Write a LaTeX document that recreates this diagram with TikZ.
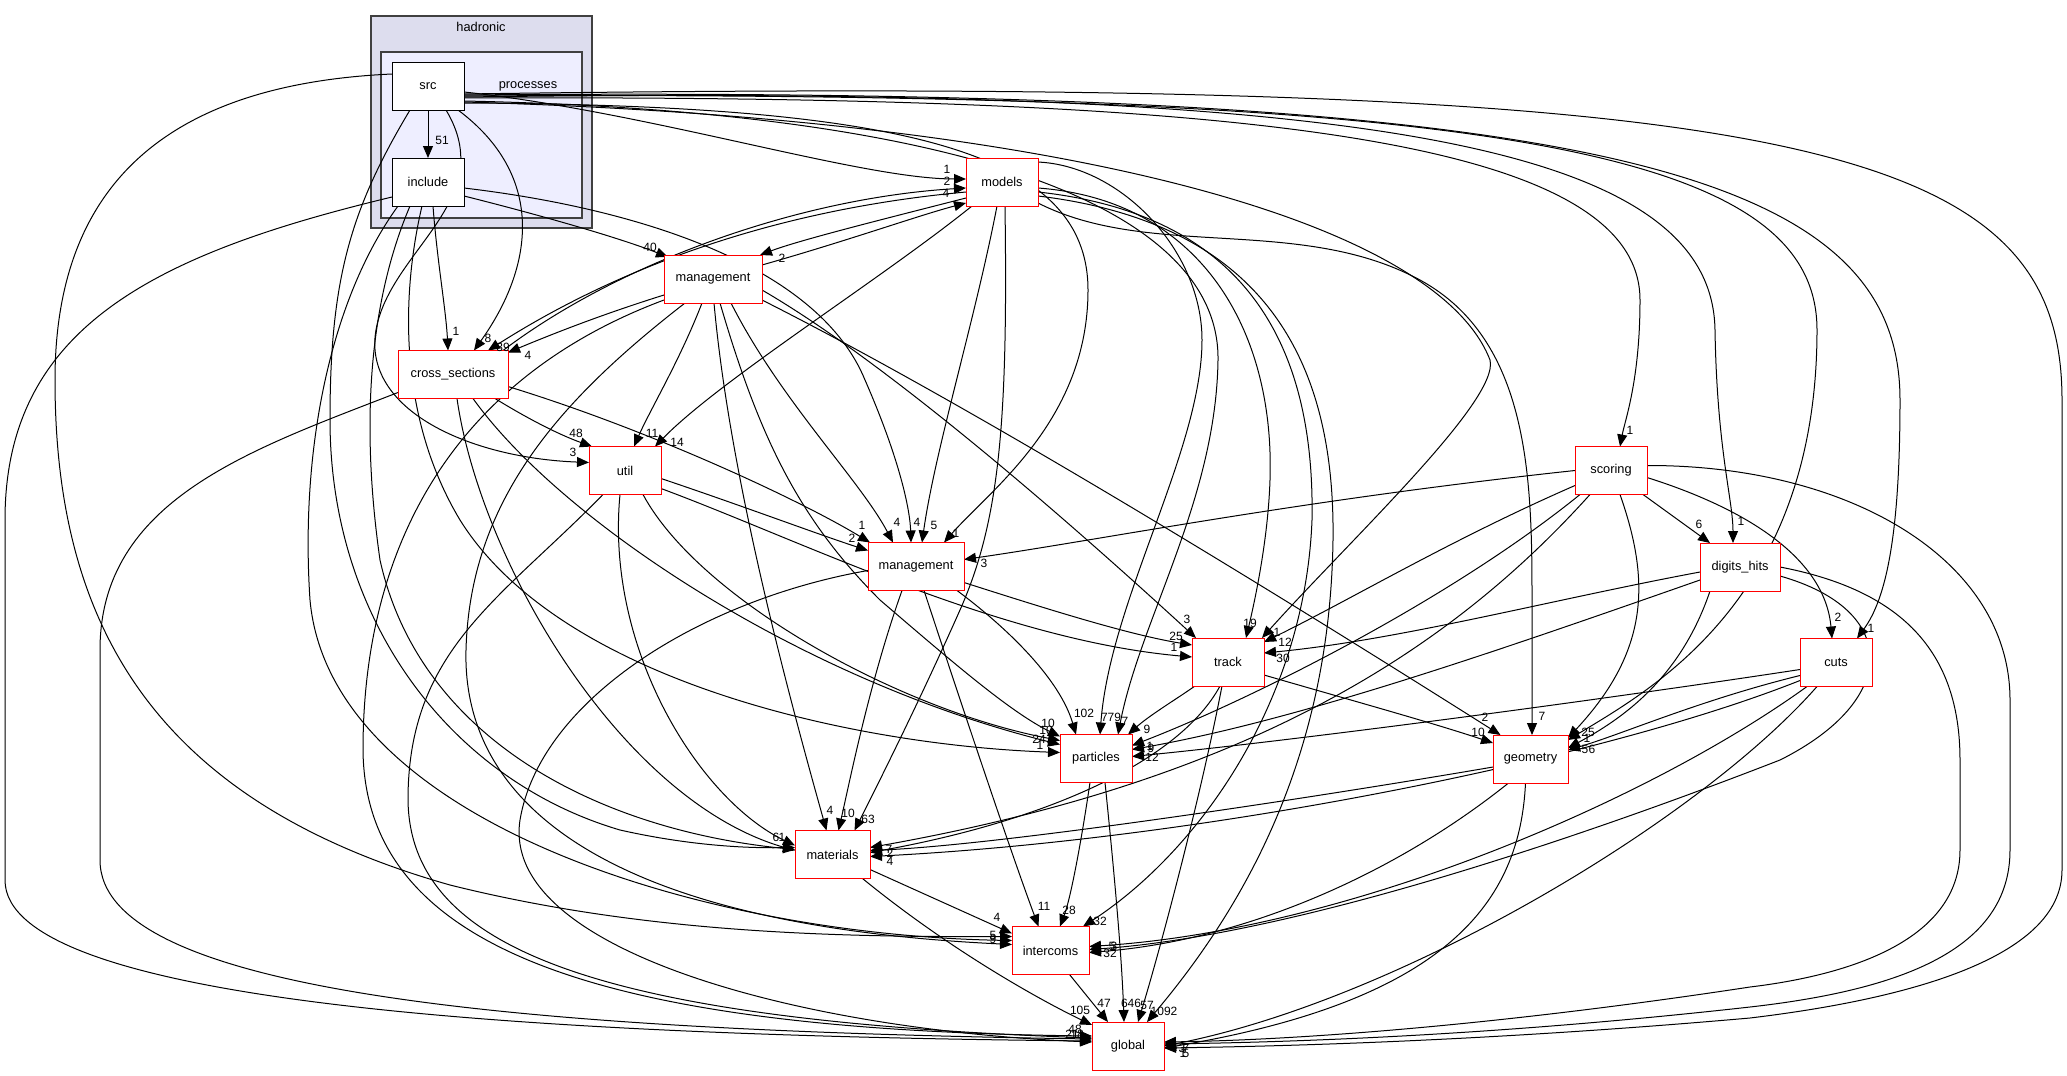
\documentclass[tikz,border=0pt]{standalone}
\usepackage{fontspec}
\setmainfont{Liberation Sans}
\usetikzlibrary{arrows.meta,calc}
\definecolor{hadfill}{HTML}{DDDDEE}
\definecolor{procfill}{HTML}{EEEEFF}
\definecolor{clborder}{HTML}{404040}
\begin{document}
\begin{tikzpicture}[x=1pt,y=-1pt,
  dep/.style={line width=1pt,-{Triangle[length=12pt,width=10pt]}},
  dirn/.style={draw=red,fill=white,line width=0.9pt,minimum height=48pt,inner sep=0pt,font=\fontsize{12.8}{14}\selectfont},
  lbl/.style={inner sep=0pt,font=\fontsize{12}{13}\selectfont},
  clus/.style={draw=clborder,line width=1.1pt,inner sep=0pt}]
\fill[white] (0,0) rectangle (2067,1076);
\useasboundingbox (0,0) rectangle (2067,1076);
% clusters
\node[clus,fill=hadfill,minimum width=221pt,minimum height=212pt] (hadronic) at (481.5,122) {};
\node[lbl,font=\fontsize{12.8}{14}\selectfont] (hadlbl) at (481,27) {hadronic};
\node[clus,fill=procfill,minimum width=201pt,minimum height=166pt] (processes) at (481.5,135) {};
\node[lbl,font=\fontsize{12.8}{14}\selectfont] (proclbl) at (528,86) {processes};
% node centres
\coordinate (src) at (428,86);
\coordinate (include) at (428,182);
\coordinate (models) at (1002,182);
\coordinate (mgmtH) at (713,279);
\coordinate (cross) at (453,374.5);
\coordinate (util) at (625,470.5);
\coordinate (mgmtP) at (916,566.5);
\coordinate (track) at (1228,662);
\coordinate (particles) at (1096,758.5);
\coordinate (geometry) at (1530.5,759);
\coordinate (scoring) at (1611,470.5);
\coordinate (digits) at (1740,567);
\coordinate (cuts) at (1836,662.5);
\coordinate (materials) at (832.5,854.5);
\coordinate (intercoms) at (1050.5,950.5);
\coordinate (global) at (1128,1046);
% ---------------- edges ----------------
% from src
\draw[dep] ($(src)+(0,24)$) -- ($(include)+(0,-24)$);
\draw[dep] ($(src)+(36,6)$) .. controls (650,112) and (860,179) .. ($(models)+(-36,-3)$);
\draw[dep] ($(src)+(30,24)$) .. controls (545,175) and (535,265) .. ($(cross)+(21,-24)$);
\draw[dep] ($(src)+(18,24)$) .. controls (500,200) and (390,250) .. (376,330) .. controls (362,410) and (470,458) .. ($(util)+(-36,-8)$);
\draw[dep] ($(src)+(36,17)$) .. controls (900,105) and (1088,150) .. (1088,290) .. controls (1088,420) and (990,490) .. ($(mgmtP)+(28,-24)$);
\draw[dep] ($(src)+(36,15)$) .. controls (1000,112) and (1220,220) .. (1218,360) .. controls (1216,500) and (1140,620) .. ($(particles)+(22,-24)$);
\draw[dep] ($(src)+(36,16)$) .. controls (1100,120) and (1440,230) .. (1490,360) .. controls (1500,400) and (1350,540) .. ($(track)+(34,-24)$);
\draw[dep] ($(src)+(36,12)$) .. controls (1200,95) and (1640,130) .. (1640,300) .. controls (1640,380) and (1625,420) .. ($(scoring)+(9,-24)$);
\draw[dep] ($(src)+(36,11)$) .. controls (1350,85) and (1712,140) .. (1715,330) .. controls (1717,450) and (1733,500) .. ($(digits)+(-7,-24)$);
\draw[dep] ($(src)+(36,10)$) .. controls (1500,90) and (1817,150) .. (1817,330) .. controls (1817,600) and (1650,690) .. ($(geometry)+(37.5,-19)$);
\draw[dep] ($(src)+(36,9)$) .. controls (1600,85) and (1900,170) .. (1900,400) .. controls (1900,540) and (1885,600) .. ($(cuts)+(21,-24)$);
\draw[dep] ($(src)+(36,8)$) .. controls (1800,75) and (2062,140) .. (2062,400) -- (2062,870) .. controls (2062,960) and (1900,1000) .. (1750,1018) .. controls (1500,1040) and (1300,1046) .. ($(global)+(36,2)$);
\draw[dep] ($(src)+(-36,-12)$) .. controls (150,85) and (55,200) .. (55,380) .. controls (55,620) and (150,800) .. (450,885) .. controls (650,935) and (850,937) .. ($(intercoms)+(-38.5,-14)$);
\draw[dep] ($(src)+(-18,24)$) .. controls (350,210) and (330,280) .. (330,420) .. controls (330,620) and (450,780) .. (620,830) .. controls (700,848) and (760,848) .. ($(materials)+(-37.5,-7)$);
% from include
\draw[dep] ($(include)+(36,14)$) .. controls (540,215) and (620,238) .. ($(mgmtH)+(-45,-22)$);
\draw[dep] ($(include)+(5,24)$) .. controls (437,260) and (446,310) .. ($(cross)+(-5,-24)$);
\draw[dep] ($(include)+(36,6)$) .. controls (650,210) and (820,270) .. (865,380) .. controls (900,460) and (910,510) .. ($(mgmtP)+(-5,-24)$);
\draw[dep] ($(include)+(-36,15)$) .. controls (150,255) and (5,330) .. (5,520) -- (5,880) .. controls (5,1000) and (500,1035) .. ($(global)+(-36,-5)$);
\draw[dep] ($(include)+(-18,24)$) .. controls (370,300) and (360,420) .. (380,560) .. controls (420,740) and (600,830) .. ($(materials)+(-37.5,-5)$);
\draw[dep] ($(include)+(-30,24)$) .. controls (330,300) and (300,450) .. (310,600) .. controls (330,820) and (700,935) .. ($(intercoms)+(-38.5,-10)$);
\draw[dep] ($(include)+(-6,24)$) .. controls (400,300) and (400,420) .. (460,520) .. controls (560,680) and (850,745) .. ($(particles)+(-36,-6)$);
% models / management / cross_sections
\draw[dep] ($(cross)+(50,-24)$) .. controls (620,262) and (800,198) .. ($(models)+(-36,6)$);
\draw[dep] ($(models)+(-36,10)$) .. controls (790,208) and (630,260) .. ($(cross)+(35,-24)$);
\draw[dep] ($(models)+(-36,16)$) .. controls (880,220) and (800,240) .. ($(mgmtH)+(47,-24)$);
\draw[dep] ($(mgmtH)+(49,-14)$) .. controls (850,240) and (920,215) .. ($(models)+(-36,21)$);
\draw[dep] ($(mgmtH)+(-49,16)$) .. controls (600,315) and (550,335) .. ($(cross)+(55,-22)$);
\draw[dep] ($(cross)+(42,24)$) .. controls (530,420) and (560,435) .. ($(util)+(-33,-24)$);
\draw[dep] ($(mgmtH)+(-11,24)$) .. controls (680,360) and (650,410) .. ($(util)+(9,-24)$);
\draw[dep] ($(models)+(-30,24)$) .. controls (880,280) and (720,380) .. ($(util)+(30,-24)$);
\draw[dep] ($(models)+(-5,24)$) .. controls (975,320) and (935,450) .. ($(mgmtP)+(6,-24)$);
\draw[dep] ($(models)+(3,24)$) .. controls (1008,420) and (1000,520) .. (960,610) .. controls (920,700) and (880,780) .. ($(materials)+(22,-24)$);
\draw[dep] ($(models)+(35,-20)$) .. controls (1120,165) and (1202,250) .. (1202,340) .. controls (1202,450) and (1110,600) .. ($(particles)+(4,-24)$);
\draw[dep] ($(models)+(36,6)$) .. controls (1200,200) and (1275,330) .. (1270,480) .. controls (1268,540) and (1255,600) .. ($(track)+(18,-24)$);
\draw[dep] ($(models)+(36,10)$) .. controls (1250,215) and (1315,350) .. (1312,520) .. controls (1305,700) and (1200,850) .. ($(intercoms)+(32.5,-24)$);
\draw[dep] ($(models)+(36,14)$) .. controls (1280,225) and (1335,380) .. (1333,540) .. controls (1330,750) and (1250,900) .. ($(global)+(19,-24)$);
\draw[dep] ($(models)+(36,21)$) .. controls (1150,260) and (1300,215) .. (1420,280) .. controls (1530,340) and (1532,480) .. (1532,600) -- ($(geometry)+(1.5,-24)$);
\draw[dep] ($(mgmtH)+(49,11)$) .. controls (900,370) and (1100,550) .. ($(track)+(-32,-24)$);
\draw[dep] ($(mgmtH)+(49,21)$) .. controls (1000,420) and (1350,640) .. ($(geometry)+(-30,-24)$);
\draw[dep] ($(mgmtH)+(7,24)$) .. controls (760,440) and (800,520) .. (880,600) .. controls (950,660) and (1010,712) .. ($(particles)+(-36,-22)$);
\draw[dep] ($(mgmtH)+(18,24)$) .. controls (780,400) and (860,480) .. ($(mgmtP)+(-23,-24)$);
\draw[dep] ($(mgmtH)+(1,24)$) .. controls (730,480) and (790,700) .. ($(materials)+(-6,-24)$);
\draw[dep] ($(mgmtH)+(-28,24)$) .. controls (560,400) and (470,500) .. (466,650) .. controls (462,800) and (600,925) .. ($(intercoms)+(-38.5,-6)$);
\draw[dep] ($(mgmtH)+(-49,21)$) .. controls (450,380) and (363,550) .. (363,750) .. controls (365,950) and (600,1030) .. ($(global)+(-36,-10)$);
\draw[dep] ($(cross)+(55,12)$) .. controls (650,430) and (800,500) .. ($(mgmtP)+(-46,-24)$);
\draw[dep] ($(util)+(36,8)$) .. controls (740,505) and (820,535) .. ($(mgmtP)+(-48,-16)$);
\draw[dep] ($(cross)+(20,24)$) .. controls (560,520) and (800,680) .. ($(particles)+(-36,-14)$);
\draw[dep] ($(cross)+(4,24)$) .. controls (480,560) and (620,800) .. ($(materials)+(-37.5,-4)$);
\draw[dep] ($(cross)+(-55,18)$) .. controls (250,450) and (100,500) .. (100,650) -- (100,860) .. controls (100,990) and (500,1030) .. ($(global)+(-36,-7)$);
\draw[dep] ($(util)+(36,18)$) .. controls (800,540) and (1000,640) .. ($(track)+(-36,-5)$);
\draw[dep] ($(util)+(18,24)$) .. controls (700,600) and (900,710) .. ($(particles)+(-36,-18)$);
\draw[dep] ($(util)+(-22,24)$) .. controls (500,600) and (408,650) .. (408,800) .. controls (410,950) and (600,1020) .. ($(global)+(-36,-8)$);
\draw[dep] ($(util)+(-5,24)$) .. controls (605,650) and (700,800) .. ($(materials)+(-37.5,-9)$);
\draw[dep] ($(mgmtP)+(48,16)$) .. controls (1050,610) and (1130,635) .. ($(track)+(-36,-17)$);
\draw[dep] ($(mgmtP)+(41,24)$) .. controls (1010,630) and (1060,680) .. ($(particles)+(-20,-24)$);
\draw[dep] ($(mgmtP)+(-14,24)$) .. controls (870,680) and (850,780) .. ($(materials)+(6,-24)$);
\draw[dep] ($(mgmtP)+(8,24)$) .. controls (960,700) and (1010,850) .. ($(intercoms)+(-12,-24)$);
\draw[dep] ($(mgmtP)+(-48,4)$) .. controls (700,600) and (540,700) .. (520,820) .. controls (500,950) and (800,1030) .. ($(global)+(-36,-4)$);
% right-hand group
\draw[dep] ($(scoring)+(-36,0)$) .. controls (1300,500) and (1100,540) .. ($(mgmtP)+(48,-7)$);
\draw[dep] ($(scoring)+(-36,15)$) .. controls (1450,540) and (1350,600) .. ($(track)+(36,-20)$);
\draw[dep] ($(digits)+(-40,5)$) .. controls (1550,600) and (1400,640) .. ($(track)+(36,-9)$);
\draw[dep] ($(scoring)+(-31,24)$) .. controls (1450,600) and (1250,700) .. ($(particles)+(36,-13)$);
\draw[dep] ($(digits)+(-40,13)$) .. controls (1500,650) and (1300,720) .. ($(particles)+(36,-9)$);
\draw[dep] ($(cuts)+(-36,7)$) .. controls (1600,700) and (1300,740) .. ($(particles)+(36,-2)$);
\draw[dep] ($(track)+(-33,24)$) .. controls (1175,700) and (1150,715) .. ($(particles)+(32,-24)$);
\draw[dep] ($(scoring)+(32,24)$) -- ($(digits)+(-30,-24)$);
\draw[dep] ($(scoring)+(36,7)$) .. controls (1750,510) and (1825,560) .. ($(cuts)+(-4,-24)$);
\draw[dep] ($(scoring)+(9,24)$) .. controls (1650,580) and (1650,650) .. ($(geometry)+(37.5,-21)$);
\draw[dep] ($(scoring)+(-21,24)$) .. controls (1450,650) and (1250,780) .. ($(materials)+(37.5,-7)$);
\draw[dep] ($(scoring)+(36,-5)$) .. controls (1850,465) and (2010,560) .. (2010,700) -- (2010,850) .. controls (2010,950) and (1900,990) .. (1750,1007) .. controls (1500,1035) and (1300,1042) .. ($(global)+(36,-2)$);
\draw[dep] ($(digits)+(-30,24)$) .. controls (1680,680) and (1620,720) .. ($(geometry)+(37.5,-11)$);
\draw[dep] ($(digits)+(40,9)$) .. controls (1900,610) and (1900,700) .. (1780,760) .. controls (1600,830) and (1300,935) .. ($(intercoms)+(38.5,-1)$);
\draw[dep] ($(digits)+(40,0)$) .. controls (1900,590) and (1960,650) .. (1960,760) -- (1960,850) .. controls (1960,940) and (1850,975) .. (1750,987) .. controls (1500,1025) and (1300,1040) .. ($(global)+(36,-4)$);
\draw[dep] ($(track)+(36,13)$) .. controls (1350,700) and (1430,722) .. ($(geometry)+(-37.5,-16)$);
\draw[dep] ($(track)+(-8,24)$) .. controls (1180,760) and (1050,820) .. ($(materials)+(37.5,-2)$);
\draw[dep] ($(track)+(-6,24)$) .. controls (1200,800) and (1160,950) .. ($(global)+(10,-24)$);
\draw[dep] ($(particles)+(-6,24)$) .. controls (1080,850) and (1070,900) .. ($(intercoms)+(9.5,-24)$);
\draw[dep] ($(particles)+(9,24)$) .. controls (1115,880) and (1122,960) .. ($(global)+(-4,-24)$);
\draw[dep] ($(cuts)+(-36,13)$) .. controls (1700,700) and (1620,735) .. ($(geometry)+(37.5,-9)$);
\draw[dep] ($(cuts)+(-36,18)$) .. controls (1600,760) and (1200,840) .. ($(materials)+(37.5,2)$);
\draw[dep] ($(cuts)+(-29,24)$) .. controls (1650,800) and (1350,930) .. ($(intercoms)+(38.5,-4)$);
\draw[dep] ($(cuts)+(-19,24)$) .. controls (1700,820) and (1400,1000) .. ($(global)+(36,0)$);
\draw[dep] ($(geometry)+(-37.5,8)$) .. controls (1300,800) and (1000,845) .. ($(materials)+(37.5,-4)$);
\draw[dep] ($(geometry)+(-22,24)$) .. controls (1400,870) and (1250,940) .. ($(intercoms)+(38.5,2)$);
\draw[dep] ($(geometry)+(-5,24)$) .. controls (1520,900) and (1450,1000) .. ($(global)+(36,2)$);
\draw[dep] ($(materials)+(37.5,15)$) -- ($(intercoms)+(-38.5,-17)$);
\draw[dep] ($(materials)+(30,24)$) .. controls (950,950) and (1040,1000) .. ($(global)+(-36,-21)$);
\draw[dep] ($(intercoms)+(19,24)$) -- ($(global)+(-20,-24)$);
% ---------------- nodes ----------------
\node[dirn,draw=black,minimum width=72pt] (nsrc) at (src) {src};
\node[dirn,draw=black,minimum width=72pt] (ninclude) at (include) {include};
\node[dirn,minimum width=72pt] (nmodels) at (models) {models};
\node[dirn,minimum width=98pt] (nmgmtH) at (mgmtH) {management};
\node[dirn,minimum width=110pt] (ncross) at (cross) {cross\_sections};
\node[dirn,minimum width=72pt] (nutil) at (util) {util};
\node[dirn,minimum width=96pt] (nmgmtP) at (mgmtP) {management};
\node[dirn,minimum width=72pt] (ntrack) at (track) {track};
\node[dirn,minimum width=72pt] (nparticles) at (particles) {particles};
\node[dirn,minimum width=75pt] (ngeometry) at (geometry) {geometry};
\node[dirn,minimum width=72pt] (nscoring) at (scoring) {scoring};
\node[dirn,minimum width=80pt] (ndigits) at (digits) {digits\_hits};
\node[dirn,minimum width=72pt] (ncuts) at (cuts) {cuts};
\node[dirn,minimum width=75pt] (nmaterials) at (materials) {materials};
\node[dirn,minimum width=77pt] (nintercoms) at (intercoms) {intercoms};
\node[dirn,minimum width=72pt] (nglobal) at (global) {global};
% ---------------- labels ----------------
\node[lbl] (l1) at (442,140) {51};
\node[lbl] (l2) at (947,169) {1};
\node[lbl] (l3) at (947,181) {2};
\node[lbl] (l4) at (946,193) {4};
\node[lbl] (l5) at (650,247) {40};
\node[lbl] (l6) at (782,258) {2};
\node[lbl] (l7) at (456,331) {1};
\node[lbl] (l8) at (488,338) {8};
\node[lbl] (l9) at (503,347) {39};
\node[lbl] (l10) at (528,355) {4};
\node[lbl] (l11) at (576,433) {48};
\node[lbl] (l12) at (573,452) {3};
\node[lbl] (l13) at (652,433) {11};
\node[lbl] (l14) at (677,442) {14};
\node[lbl] (l15) at (862,525) {1};
\node[lbl] (l16) at (852,538) {2};
\node[lbl] (l17) at (897,522) {4};
\node[lbl] (l18) at (917,522) {4};
\node[lbl] (l19) at (934,525) {5};
\node[lbl] (l20) at (956,533) {1};
\node[lbl] (l21) at (984,563) {3};
\node[lbl] (l22) at (1187,619) {3};
\node[lbl] (l23) at (1176,636) {25};
\node[lbl] (l24) at (1174,647) {1};
\node[lbl] (l25) at (1250,623) {19};
\node[lbl] (l26) at (1277,632) {1};
\node[lbl] (l27) at (1285,642) {12};
\node[lbl] (l28) at (1283,658) {30};
\node[lbl] (l29) at (1084,713) {102};
\node[lbl] (l30) at (1111,717) {779};
\node[lbl] (l31) at (1125,721) {7};
\node[lbl] (l32) at (1147,729) {9};
\node[lbl] (l33) at (1048,723) {10};
\node[lbl] (l34) at (1046,730) {10};
\node[lbl] (l35) at (1039,739) {24};
\node[lbl] (l36) at (1040,745) {1};
\node[lbl] (l37) at (1150,746) {1};
\node[lbl] (l38) at (1151,748) {9};
\node[lbl] (l39) at (1152,757) {12};
\node[lbl] (l40) at (1485,717) {2};
\node[lbl] (l41) at (1478,732) {10};
\node[lbl] (l42) at (1542,716) {7};
\node[lbl] (l43) at (1588,732) {25};
\node[lbl] (l44) at (1587,738) {1};
\node[lbl] (l45) at (1585,749) {5};
\node[lbl] (l46) at (1592,749) {6};
\node[lbl] (l47) at (1630,430) {1};
\node[lbl] (l48) at (1699,524) {6};
\node[lbl] (l49) at (1741,521) {1};
\node[lbl] (l50) at (1838,617) {2};
\node[lbl] (l51) at (1871,628) {1};
\node[lbl] (l52) at (830,810) {4};
\node[lbl] (l53) at (848,813) {10};
\node[lbl] (l54) at (868,819) {63};
\node[lbl] (l55) at (776,837) {6};
\node[lbl] (l56) at (782,837) {1};
\node[lbl] (l57) at (889,849) {7};
\node[lbl] (l58) at (890,853) {2};
\node[lbl] (l59) at (890,861) {4};
\node[lbl] (l60) at (997,917) {4};
\node[lbl] (l61) at (993,935) {5};
\node[lbl] (l62) at (993,939) {9};
\node[lbl] (l63) at (1044,906) {11};
\node[lbl] (l64) at (1069,910) {28};
\node[lbl] (l65) at (1100,921) {32};
\node[lbl] (l66) at (1112,946) {5};
\node[lbl] (l67) at (1114,946) {3};
\node[lbl] (l68) at (1110,953) {32};
\node[lbl] (l69) at (1080,1010) {105};
\node[lbl] (l70) at (1104,1003) {47};
\node[lbl] (l71) at (1131,1003) {646};
\node[lbl] (l72) at (1147,1005) {57};
\node[lbl] (l73) at (1164,1011) {1092};
\node[lbl] (l74) at (1075,1029) {48};
\node[lbl] (l75) at (1072,1034) {21};
\node[lbl] (l76) at (1077,1034) {18};
\node[lbl] (l77) at (1182,1048) {3};
\node[lbl] (l78) at (1186,1048) {7};
\node[lbl] (l79) at (1183,1053) {1};
\node[lbl] (l80) at (1186,1053) {5};
\end{tikzpicture}
\end{document}
